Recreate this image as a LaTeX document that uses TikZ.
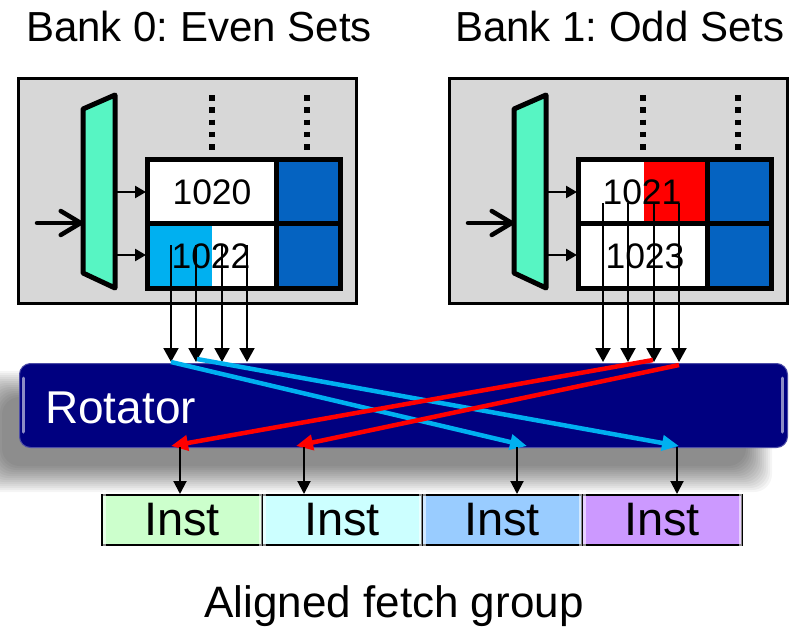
\documentclass[tikz,border=0pt]{standalone}
\usepackage{fontspec}
\setmainfont{Liberation Sans}
\usetikzlibrary{arrows.meta}
\frenchspacing

\definecolor{bankgray}{RGB}{215,215,215}
\definecolor{muxgreen}{RGB}{87,245,195}
\definecolor{waycolor}{RGB}{5,99,193}
\definecolor{hiblue}{RGB}{0,176,240}
\definecolor{hired}{RGB}{255,0,0}
\definecolor{rotnavy}{RGB}{0,0,128}
\definecolor{instA}{RGB}{204,255,204}
\definecolor{instB}{RGB}{204,255,255}
\definecolor{instC}{RGB}{153,204,255}
\definecolor{instD}{RGB}{204,153,255}

\tikzset{
  titletext/.style={font=\fontsize{42}{50}\selectfont, inner sep=0pt},
  captext/.style={font=\fontsize{44}{52}\selectfont, inner sep=0pt},
  numtext/.style={font=\fontsize{35.5}{42}\selectfont, inner sep=0pt},
  bankbox/.style={fill=bankgray, draw=black, line width=3pt},
  muxshape/.style={fill=muxgreen, draw=black, line width=5pt, line join=round},
  inarrow/.style={line width=4.5pt, line cap=round,
    -{Straight Barb[length=20pt, width=24pt, round]}},
  feed/.style={line width=2.5pt, -{Triangle[length=11pt, width=12pt]}},
  tblline/.style={draw=black, line width=5pt},
  dotline/.style={line width=5.5pt, dash pattern=on 5.5pt off 6.8pt},
  tapline/.style={line width=2pt, -{Triangle[length=14pt, width=15pt]}},
  bluewire/.style={draw=hiblue, line width=4.5pt, -{Triangle[length=17pt, width=15pt]}},
  redwire/.style={draw=hired, line width=4.5pt, -{Triangle[length=17pt, width=15pt]}},
  outline/.style={line width=2pt, -{Triangle[length=13pt, width=13pt]}},
  rotator/.style={fill=rotnavy, draw=rotnavy!70!white, line width=1pt,
    rounded corners=11pt, inner sep=0pt, minimum width=768pt, minimum height=84pt},
  instbox/.style={draw=black, line width=2pt, inner sep=0pt,
    minimum width=160pt, minimum height=50pt, font=\fontsize{47}{54}\selectfont},
  bevel/.style={white, opacity=0.55, line width=3pt},
  bank/.pic={
    % cache bank: decoder, two sets, one tag column
    \filldraw[bankbox] (18,78) rectangle (356,303);
    \coordinate (-in) at (37,223);
    \coordinate (-mL) at (83,223);
    \filldraw[muxshape] (83,109) -- (115,95) -- (115,288) -- (83,273) -- cycle;
    \draw[inarrow] (-in) -- (-mL);
    \fill[white] (147,159) rectangle (276,288);
    \fill[waycolor] (276,159) rectangle (340,288);
    \coordinate (-o1) at (115,192);
    \coordinate (-o2) at (115,255);
    \coordinate (-r1) at (146,192);
    \coordinate (-r2) at (146,255);
    \draw[feed] (-o1) -- (-r1);
    \draw[feed] (-o2) -- (-r2);
    \coordinate (-d1a) at (212,95);
    \coordinate (-d1b) at (212,156);
    \coordinate (-d2a) at (307,95);
    \coordinate (-d2b) at (307,156);
    \draw[dotline] (-d1a) -- (-d1b);
    \draw[dotline] (-d2a) -- (-d2b);
  }
}

\begin{document}
\begin{tikzpicture}[x=1pt, y=-1pt]
\useasboundingbox (0,0) rectangle (790,627);
\fill[white] (0,0) rectangle (790,627);

% bank titles
\node[titletext, anchor=base west] (title0) at (26,41) {Bank 0: Even Sets};
\node[titletext, anchor=base west] (title1) at (455,41) {Bank 1: Odd Sets};

% the two banks
\pic (bk0) at (0,0) {bank};
\pic (bk1) at (431,0) {bank};

% highlighted halves of the fetched lines
\fill[hiblue] (149.5,225.5) rectangle (212,285.5);
\fill[hired] (644,161.5) rectangle (705.5,220.5);

% table frames
\foreach \dx in {0,431} {
  \draw[tblline] (147+\dx,159) rectangle (340+\dx,288);
  \draw[tblline] (147+\dx,223) -- (340+\dx,223);
  \draw[tblline] (276+\dx,159) -- (276+\dx,288);
}

% set addresses
\node[numtext] (n1020) at (212,192) {1020};
\node[numtext] (n1022) at (211,256) {1022};
\node[numtext] (n1021) at (642,192) {1021};
\node[numtext] (n1023) at (645,256) {1023};

% soft shadow under the rotator
\foreach \k in {0,...,13} {
  \fill[black, opacity=0.038, rounded corners=18pt]
    (2-2*\k, 397-2*\k) rectangle (746+2*\k, 466+2*\k);
}

% rotator
\node[rotator, anchor=north west] (rot) at (19,363) {};
\draw[bevel, line cap=round] (23.5,378) -- (23.5,432);
\draw[bevel, line cap=round] (782.5,378) -- (782.5,432);
\node[font=\fontsize{46}{54}\selectfont, text=white, inner sep=0pt, anchor=base west]
  (rotlabel) at (45,423) {Rotator};

% taps from the banks into the rotator
\foreach \x [count=\i] in {171,196,222,247} {
  \coordinate (ta\i) at (\x,245);
  \coordinate (tb\i) at (\x,362);
  \draw[tapline] (ta\i) -- (tb\i);
}
\foreach \x [count=\i] in {603,628,654,679} {
  \coordinate (ua\i) at (\x,203);
  \coordinate (ub\i) at (\x,362);
  \draw[tapline] (ua\i) -- (ub\i);
}

% crossing wires in the rotator
\coordinate (bw1s) at (171,362);
\coordinate (bw1e) at (527,446);
\coordinate (bw2s) at (197,359);
\coordinate (bw2e) at (679,446);
\coordinate (rw1s) at (653,360);
\coordinate (rw1e) at (171,446);
\coordinate (rw2s) at (679,365);
\coordinate (rw2e) at (296,446);
\draw[bluewire] (bw1s) -- (bw1e);
\draw[bluewire] (bw2s) -- (bw2e);
\draw[redwire] (rw1s) -- (rw1e);
\draw[redwire] (rw2s) -- (rw2e);

% aligned fetch group
\node[instbox, fill=instA, anchor=north west] (i1) at (101,494) {};
\node[instbox, fill=instB, anchor=north west] (i2) at (261,494) {};
\node[instbox, fill=instC, anchor=north west] (i3) at (421,494) {};
\node[instbox, fill=instD, anchor=north west] (i4) at (581,494) {};
\foreach \n in {i1,i2,i3,i4} {
  \draw[bevel] ([shift={(3,-4)}]\n.north west) -- ([shift={(3,4)}]\n.south west);
  \draw[bevel] ([shift={(-3,-4)}]\n.north east) -- ([shift={(-3,4)}]\n.south east);
  \node[font=\fontsize{47}{54}\selectfont, inner sep=0pt] (\n-label) at (\n.center) {Inst};
}

% rotator outputs
\coordinate (o1) at (180,447);
\coordinate (o2) at (304,447);
\coordinate (o3) at (517,447);
\coordinate (o4) at (677,447);
\draw[outline] (o1) -- (o1 |- i1.north);
\draw[outline] (o2) -- (o2 |- i2.north);
\draw[outline] (o3) -- (o3 |- i3.north);
\draw[outline] (o4) -- (o4 |- i4.north);

\node[captext, anchor=base] (caption) at (394,617) {Aligned fetch group};
\end{tikzpicture}
\end{document}
